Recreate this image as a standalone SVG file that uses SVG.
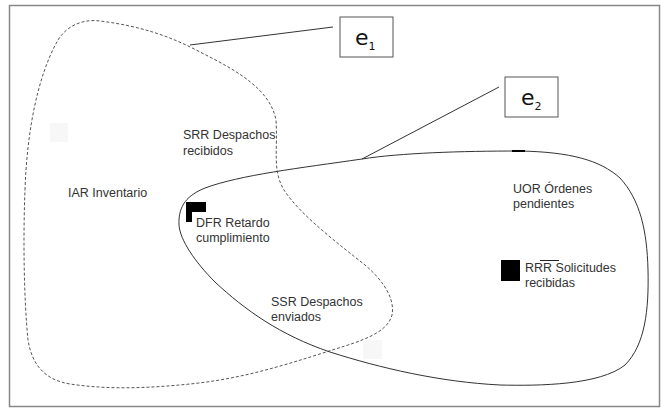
<svg xmlns="http://www.w3.org/2000/svg" width="662" height="409" viewBox="0 0 662 409">
<style>
.lbl{font-family:"Liberation Sans",Arial,sans-serif;font-size:12.5px;fill:#333}
.e{font-family:"DejaVu Sans",Verdana,sans-serif;font-size:22px;fill:#111}
.sub{font-size:11px}
.box{fill:#fff;stroke:#555;stroke-width:1}
.conn{fill:none;stroke:#333;stroke-width:1}
.solid{fill:none;stroke:#333;stroke-width:1}
.dash{fill:none;stroke:#555;stroke-width:1;stroke-dasharray:3 2}
.faint{fill:#f7f7f7}
.blk{fill:#000}
</style>
<rect x="9.5" y="5.5" width="650" height="401" fill="#fff" stroke="#888" stroke-width="1.5"/>
<rect class="faint" x="50" y="123" width="18" height="19"/>
<rect class="faint" x="363" y="340" width="19" height="19"/>
<g id="set-e1">
<path class="dash" d="M 25,190 C 27,130 38,75 58,40 C 68,24 85,19 100,21 C 140,26 170,36 200,52 C 240,72 270,90 276,120 C 278,150 272,170 284,190 C 300,215 340,245 365,265 C 385,282 395,300 392,315 C 388,330 370,338 345,346 C 300,360 250,378 190,384 C 150,388 110,390 70,384 C 45,380 32,365 28,340 C 24,300 23,240 25,190 Z"/>
</g>
<g id="set-e2">
<path class="solid" d="M 362,159 C 400,153 460,151 520,151 C 570,152 600,160 620,178 C 640,200 647,230 648,270 C 649,310 645,345 625,365 C 600,385 540,386 500,385 C 440,382 380,368 330,352 C 280,335 245,310 215,282 C 195,262 180,240 179,225 C 178,205 188,195 205,188 C 240,175 300,168 362,159 Z"/>
<line x1="512" y1="151" x2="525" y2="151" stroke="#000" stroke-width="2"/>
</g>
<g id="connectors">
<line class="conn" x1="190" y1="45" x2="333" y2="27"/>
<line class="conn" x1="362" y1="159" x2="499" y2="87"/>
</g>
<g id="node-e1">
<rect class="box" x="340" y="17" width="53" height="40"/>
<text class="e" x="355" y="45">e<tspan class="sub" dy="5">1</tspan></text>
</g>
<g id="node-e2">
<rect class="box" x="505" y="77" width="53" height="40"/>
<text class="e" x="521" y="105">e<tspan class="sub" dy="5">2</tspan></text>
</g>
<g id="node-srr">
<text class="lbl" x="183" y="139">SRR Despachos</text>
<text class="lbl" x="183" y="155">recibidos</text>
</g>
<g id="node-iar">
<text class="lbl" x="68" y="197">IAR Inventario</text>
</g>
<g id="node-dfr">
<polygon class="blk" points="186,202 206,202 206,212 192,212 192,222 186,222"/>
<text class="lbl" x="196" y="227">DFR Retardo</text>
<text class="lbl" x="196" y="242">cumplimiento</text>
</g>
<g id="node-ssr">
<text class="lbl" x="271" y="306">SSR Despachos</text>
<text class="lbl" x="271" y="321">enviados</text>
</g>
<g id="node-uor">
<text class="lbl" x="513" y="193">UOR Órdenes</text>
<text class="lbl" x="513" y="208">pendientes</text>
</g>
<g id="node-rrr">
<rect class="blk" x="501" y="260" width="19" height="21"/>
<line x1="540" y1="260.5" x2="559" y2="260.5" stroke="#222" stroke-width="1"/>
<text class="lbl" x="525" y="272">RRR Solicitudes</text>
<text class="lbl" x="525" y="287">recibidas</text>
</g>
</svg>
